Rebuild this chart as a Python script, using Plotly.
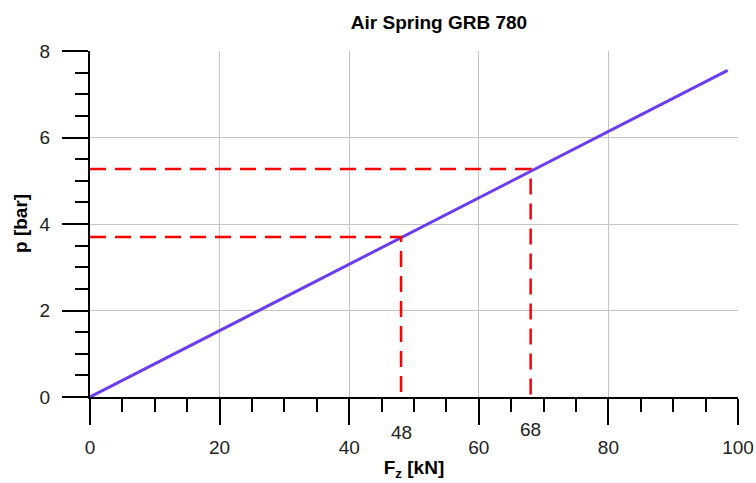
import plotly.graph_objects as go

# Data
force_kN = [0, 98.4]          # F_z [kN]
pressure_bar = [0, 7.55]      # p [bar]
marked_force = [48, 68]       # highlighted loads
marked_pressure = [3.7, 5.27] # corresponding pressures
marked_labels = ["48", "68"]

x_ticks = [0, 20, 40, 60, 80, 100]
y_ticks = [0, 2, 4, 6, 8]

fig = go.Figure()

fig.add_trace(go.Scatter(
    x=force_kN, y=pressure_bar, mode="lines",
    line=dict(color="#6b3cf2", width=3), showlegend=False, cliponaxis=False))

for f, p in zip(marked_force, marked_pressure):
    fig.add_trace(go.Scatter(
        x=[0, f, f], y=[p, p, 0], mode="lines",
        line=dict(color="#ff0000", width=2.5, dash="16px,9px"),
        showlegend=False, cliponaxis=False))

tick_font = dict(family="Liberation Sans Narrow, Liberation Sans, Arial", size=19, color="#222")
title_font = dict(family="Liberation Sans, Arial", size=19, color="#000")

label_shift = [-35, -32]
for f, lab, s in zip(marked_force, marked_labels, label_shift):
    fig.add_annotation(x=f, xref="x", y=0, yref="paper", text=lab,
                       showarrow=False, yshift=s, yanchor="middle",
                       font=tick_font)

# y-axis title placed as a rotated annotation
fig.add_annotation(x=(20 - 90) / 648, xref="paper", y=0.5, yref="paper",
                   text="<b>p [bar]</b>", textangle=-90, showarrow=False,
                   xanchor="center", yanchor="middle", font=title_font)

fig.update_layout(
    width=756, height=483,
    margin=dict(l=90, r=18, t=51, b=86, autoexpand=False),
    paper_bgcolor="white", plot_bgcolor="white",
    title=dict(text="<b>Air Spring GRB 780</b>", x=439 / 756, xanchor="center",
               xref="container", y=1 - 22 / 483, yanchor="middle", font=title_font),
    xaxis=dict(
        range=[0, 100], tickvals=x_ticks, ticktext=[str(v) for v in x_ticks],
        showgrid=True, gridcolor="#c4c4c4", gridwidth=1,
        showline=True, linecolor="#000", linewidth=2,
        ticks="outside", ticklen=26, tickwidth=2, tickcolor="#000",
        ticklabelstandoff=6, tickfont=tick_font, zeroline=False, automargin=False,
        minor=dict(dtick=5, ticks="outside", ticklen=13, tickwidth=2,
                   tickcolor="#000", showgrid=False),
        title=dict(text="<b>F<sub>z</sub> [kN]</b>", font=title_font, standoff=4),
    ),
    yaxis=dict(
        range=[0, 8], tickvals=y_ticks, ticktext=[str(v) for v in y_ticks],
        showgrid=True, gridcolor="#c4c4c4", gridwidth=1,
        showline=True, linecolor="#000", linewidth=2,
        ticks="outside", ticklen=26, tickwidth=2, tickcolor="#000",
        ticklabelstandoff=8, tickfont=tick_font, zeroline=False, automargin=False,
        minor=dict(dtick=0.5, ticks="outside", ticklen=13, tickwidth=2,
                   tickcolor="#000", showgrid=False),
    ),
)

fig.write_html("out.html",
               config={"displayModeBar": False},
               post_script="document.body.style.margin='0';document.body.style.overflow='hidden';")
